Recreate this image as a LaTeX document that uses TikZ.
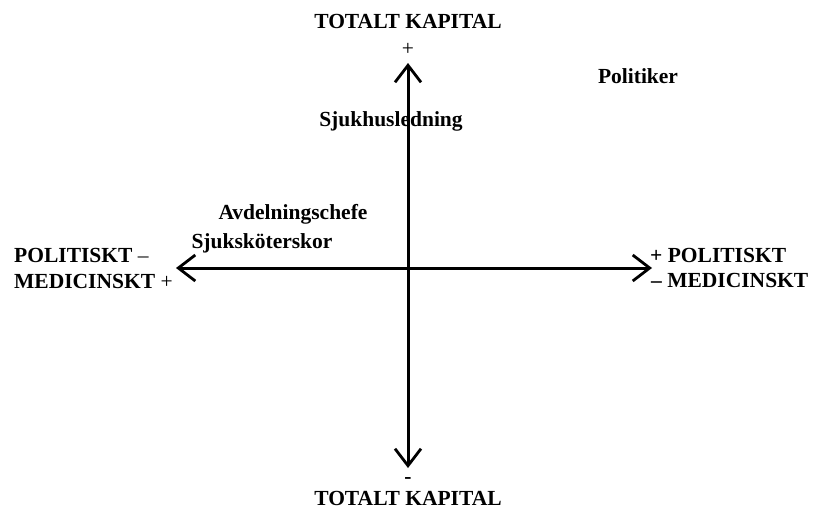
\documentclass[tikz,border=0pt]{standalone}
\usepackage{fontspec}
\setmainfont{Liberation Serif}
\usetikzlibrary{arrows.meta}

\begin{document}
\begin{tikzpicture}[
  x=1pt, y=-1pt,
  lbl/.style={font=\bfseries\fontsize{21.5}{26}\selectfont,
    inner sep=0pt, anchor=base},
  sign/.style={font=\fontsize{21.5}{26}\selectfont,
    inner sep=0pt, anchor=base},
  axis/.style={line width=3pt,
    -{Straight Barb[length=17pt, width=26pt, line width=2.8pt]}}
]
  \useasboundingbox (0,0) rectangle (814,509);

  %% axis end points
  \coordinate (O) at (408,268);
  \coordinate (top) at (408,63);
  \coordinate (bottom) at (408,468);
  \coordinate (left) at (176,268);
  \coordinate (right) at (652,268);

  \draw[axis] (O) -- (top);
  \draw[axis] (O) -- (bottom);
  \draw[axis] (O) -- (left);
  \draw[axis] (O) -- (right);

  %% vertical axis labels
  \node[lbl] (capTop) at (408,28) {TOTALT KAPITAL};
  \node[sign] (plusTop) at (408,55) {+};
  \node[lbl] (minusBot) at (408,483) {-};
  \node[lbl] (capBot) at (408,505) {TOTALT KAPITAL};

  %% horizontal axis labels
  \node[lbl, anchor=base west] (polL) at (14,262) {POLITISKT \textmd{–}};
  \node[lbl, anchor=base west] (medL) at (14,288) {MEDICINSKT \textmd{+}};
  \node[lbl, anchor=base west] (polR) at (650,262) {+ POLITISKT};
  \node[lbl, anchor=base west] (medR) at (651,287) {– MEDICINSKT};

  %% actors
  \node[lbl] (politiker) at (638,83) {Politiker};
  \node[lbl] (ledning) at (391,126) {Sjukhusledning};
  \node[lbl] (chefer) at (293,219) {Avdelningschefe};
  \node[lbl] (skoterskor) at (262,248) {Sjuksköterskor};
\end{tikzpicture}
\end{document}
